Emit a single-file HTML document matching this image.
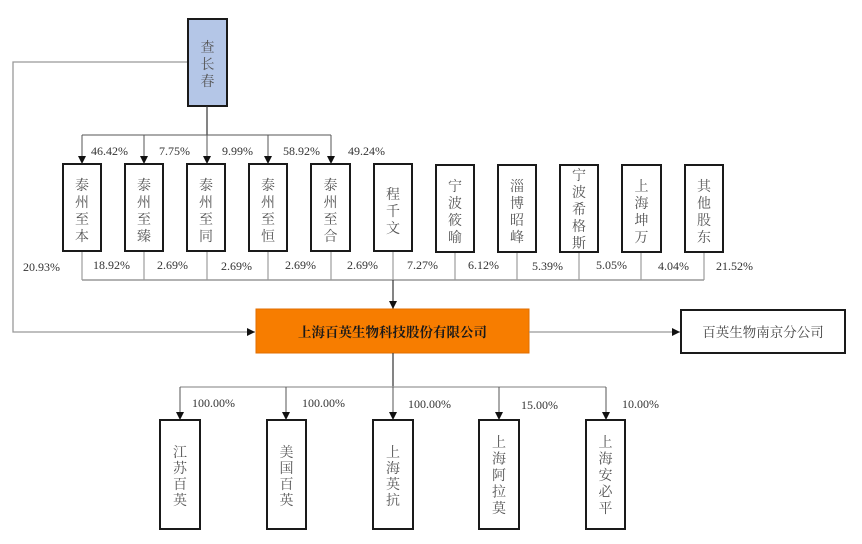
<!DOCTYPE html>
<html><head><meta charset="utf-8"><style>
html,body{margin:0;padding:0;background:#fff;}
svg{display:block;}
.p{font-family:"Liberation Serif","Noto Serif CJK SC",serif;font-size:12px;fill:#333;}
.c{font-family:"Liberation Serif","Noto Serif CJK SC",serif;font-size:14px;fill:#555;text-anchor:middle;}
.b{fill:#fff;stroke:#1a1a1a;stroke-width:2;}
</style></head><body>
<svg width="862" height="544" viewBox="0 0 862 544" xmlns="http://www.w3.org/2000/svg">
<defs>
<marker id="a" markerWidth="8" markerHeight="8" refX="4" refY="8" markerUnits="userSpaceOnUse" viewBox="0 0 8 8">
<path d="M0,0 L8,0 L4,8 Z" fill="#111"/></marker>
<marker id="r" markerWidth="8" markerHeight="8" refX="8" refY="4" markerUnits="userSpaceOnUse" viewBox="0 0 8 8">
<path d="M0,0 L8,4 L0,8 Z" fill="#111"/></marker>
</defs>

<!-- left long line from 查长春 -->
<polyline points="188,62 13,62 13,332 255,332" fill="none" stroke="#999" stroke-width="1.3" marker-end="url(#r)"/>

<!-- 查长春 -->
<rect x="188" y="19" width="39" height="87" fill="#b4c6e7" stroke="#1a1a1a" stroke-width="2"/>
<text class="c" x="207.5" y="52">查</text>
<text class="c" x="207.5" y="69">长</text>
<text class="c" x="207.5" y="86">春</text>

<!-- top connectors -->
<line x1="207" y1="106" x2="207" y2="135" stroke="#333" stroke-width="1.2"/>
<line x1="82" y1="135" x2="331" y2="135" stroke="#555" stroke-width="1"/>
<line x1="82" y1="135" x2="82" y2="164" stroke="#555" stroke-width="1" marker-end="url(#a)"/>
<line x1="144" y1="135" x2="144" y2="164" stroke="#555" stroke-width="1" marker-end="url(#a)"/>
<line x1="207" y1="135" x2="207" y2="164" stroke="#555" stroke-width="1" marker-end="url(#a)"/>
<line x1="268" y1="135" x2="268" y2="164" stroke="#555" stroke-width="1" marker-end="url(#a)"/>
<line x1="331" y1="135" x2="331" y2="164" stroke="#555" stroke-width="1" marker-end="url(#a)"/>

<text class="p" x="91" y="155">46.42%</text>
<text class="p" x="159" y="155">7.75%</text>
<text class="p" x="222" y="155">9.99%</text>
<text class="p" x="283" y="155">58.92%</text>
<text class="p" x="348" y="155">49.24%</text>

<!-- shareholder row boxes -->
<g>
<rect class="b" x="63" y="164" width="38" height="87"/>
<text class="c" x="82" y="190">泰</text><text class="c" x="82" y="207">州</text><text class="c" x="82" y="224">至</text><text class="c" x="82" y="241">本</text>
<rect class="b" x="125" y="164" width="38" height="87"/>
<text class="c" x="144" y="190">泰</text><text class="c" x="144" y="207">州</text><text class="c" x="144" y="224">至</text><text class="c" x="144" y="241">臻</text>
<rect class="b" x="187" y="164" width="38" height="87"/>
<text class="c" x="206" y="190">泰</text><text class="c" x="206" y="207">州</text><text class="c" x="206" y="224">至</text><text class="c" x="206" y="241">同</text>
<rect class="b" x="249" y="164" width="38" height="87"/>
<text class="c" x="268" y="190">泰</text><text class="c" x="268" y="207">州</text><text class="c" x="268" y="224">至</text><text class="c" x="268" y="241">恒</text>
<rect class="b" x="311" y="164" width="39" height="87"/>
<text class="c" x="330.5" y="190">泰</text><text class="c" x="330.5" y="207">州</text><text class="c" x="330.5" y="224">至</text><text class="c" x="330.5" y="241">合</text>
<rect class="b" x="374" y="164" width="38" height="87"/>
<text class="c" x="393" y="199">程</text><text class="c" x="393" y="216">千</text><text class="c" x="393" y="233">文</text>
<rect class="b" x="436" y="165" width="38" height="87"/>
<text class="c" x="455" y="191">宁</text><text class="c" x="455" y="208">波</text><text class="c" x="455" y="225">筱</text><text class="c" x="455" y="242">喻</text>
<rect class="b" x="498" y="165" width="38" height="87"/>
<text class="c" x="517" y="191">淄</text><text class="c" x="517" y="208">博</text><text class="c" x="517" y="225">昭</text><text class="c" x="517" y="242">峰</text>
<rect class="b" x="560" y="165" width="38" height="87"/>
<text class="c" x="579" y="180">宁</text><text class="c" x="579" y="197">波</text><text class="c" x="579" y="214">希</text><text class="c" x="579" y="231">格</text><text class="c" x="579" y="248">斯</text>
<rect class="b" x="622" y="165" width="39" height="87"/>
<text class="c" x="641.5" y="191">上</text><text class="c" x="641.5" y="208">海</text><text class="c" x="641.5" y="225">坤</text><text class="c" x="641.5" y="242">万</text>
<rect class="b" x="685" y="165" width="38" height="87"/>
<text class="c" x="704" y="191">其</text><text class="c" x="704" y="208">他</text><text class="c" x="704" y="225">股</text><text class="c" x="704" y="242">东</text>
</g>

<!-- bottom collectors -->
<g stroke="#888" stroke-width="1">
<line x1="82" y1="252" x2="82" y2="280"/>
<line x1="144" y1="252" x2="144" y2="280"/>
<line x1="207" y1="252" x2="207" y2="280"/>
<line x1="268" y1="252" x2="268" y2="280"/>
<line x1="331" y1="252" x2="331" y2="280"/>
<line x1="393" y1="252" x2="393" y2="280"/>
<line x1="455" y1="253" x2="455" y2="280"/>
<line x1="517" y1="253" x2="517" y2="280"/>
<line x1="579" y1="253" x2="579" y2="280"/>
<line x1="641" y1="253" x2="641" y2="280"/>
<line x1="704" y1="253" x2="704" y2="280"/>
</g>
<line x1="82" y1="280" x2="704" y2="280" stroke="#999" stroke-width="1.6"/>
<line x1="393" y1="280" x2="393" y2="309" stroke="#333" stroke-width="1.2" marker-end="url(#a)"/>

<text class="p" x="23" y="271">20.93%</text>
<text class="p" x="93" y="269">18.92%</text>
<text class="p" x="157" y="269">2.69%</text>
<text class="p" x="221" y="270">2.69%</text>
<text class="p" x="285" y="269">2.69%</text>
<text class="p" x="347" y="269">2.69%</text>
<text class="p" x="407" y="269">7.27%</text>
<text class="p" x="468" y="269">6.12%</text>
<text class="p" x="532" y="270">5.39%</text>
<text class="p" x="596" y="269">5.05%</text>
<text class="p" x="658" y="270">4.04%</text>
<text class="p" x="716" y="270">21.52%</text>

<!-- main company -->
<rect x="256" y="309" width="273" height="44" fill="#f77d00" stroke="#e06e00" stroke-width="1"/>
<text x="392.5" y="337" style="font-family:'Liberation Serif','Noto Serif CJK SC',serif;font-size:13.5px;font-weight:bold;fill:#1a1a1a;text-anchor:middle;">上海百英生物科技股份有限公司</text>

<!-- branch -->
<line x1="529" y1="332" x2="680" y2="332" stroke="#999" stroke-width="1.3" marker-end="url(#r)"/>
<rect class="b" x="681" y="310" width="164" height="43"/>
<text x="763" y="337" style="font-family:'Liberation Serif','Noto Serif CJK SC',serif;font-size:13.5px;fill:#444;text-anchor:middle;">百英生物南京分公司</text>

<!-- subsidiaries -->
<line x1="393" y1="353" x2="393" y2="387" stroke="#333" stroke-width="1.2"/>
<line x1="180" y1="387" x2="606" y2="387" stroke="#999" stroke-width="1.3"/>
<g stroke="#555" stroke-width="1">
<line x1="180" y1="387" x2="180" y2="420" marker-end="url(#a)"/>
<line x1="286" y1="387" x2="286" y2="420" marker-end="url(#a)"/>
<line x1="393" y1="387" x2="393" y2="420" marker-end="url(#a)"/>
<line x1="499" y1="387" x2="499" y2="420" marker-end="url(#a)"/>
<line x1="606" y1="387" x2="606" y2="420" marker-end="url(#a)"/>
</g>
<text class="p" x="192" y="407">100.00%</text>
<text class="p" x="302" y="407">100.00%</text>
<text class="p" x="408" y="408">100.00%</text>
<text class="p" x="521" y="409">15.00%</text>
<text class="p" x="622" y="408">10.00%</text>

<rect class="b" x="160" y="420" width="40" height="109"/>
<text class="c" x="180" y="457">江</text><text class="c" x="180" y="473">苏</text><text class="c" x="180" y="489">百</text><text class="c" x="180" y="505">英</text>
<rect class="b" x="267" y="420" width="39" height="109"/>
<text class="c" x="286.5" y="457">美</text><text class="c" x="286.5" y="473">国</text><text class="c" x="286.5" y="489">百</text><text class="c" x="286.5" y="505">英</text>
<rect class="b" x="373" y="420" width="40" height="109"/>
<text class="c" x="393" y="457">上</text><text class="c" x="393" y="473">海</text><text class="c" x="393" y="489">英</text><text class="c" x="393" y="505">抗</text>
<rect class="b" x="479" y="420" width="40" height="109"/>
<text class="c" x="499" y="447">上</text><text class="c" x="499" y="463.5">海</text><text class="c" x="499" y="480">阿</text><text class="c" x="499" y="496.5">拉</text><text class="c" x="499" y="513">莫</text>
<rect class="b" x="586" y="420" width="39" height="109"/>
<text class="c" x="605.5" y="447">上</text><text class="c" x="605.5" y="463.5">海</text><text class="c" x="605.5" y="480">安</text><text class="c" x="605.5" y="496.5">必</text><text class="c" x="605.5" y="513">平</text>
</svg>
</body></html>
